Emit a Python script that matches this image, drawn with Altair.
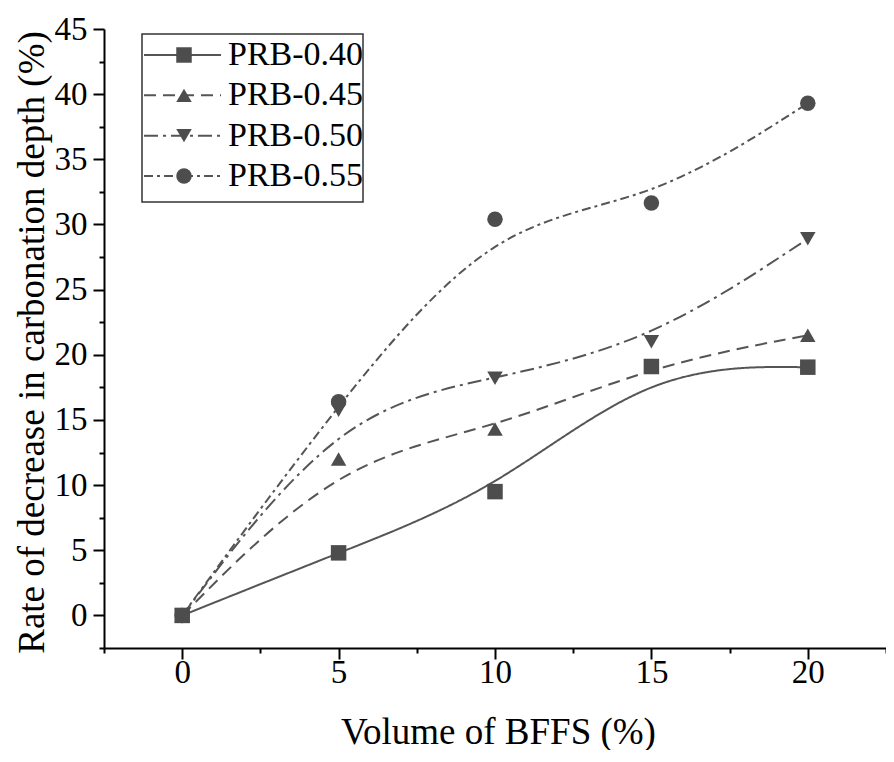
import altair as alt
import pandas as pd

# ---- data ----
volume = [0, 5, 10, 15, 20]
series_names = ["PRB-0.40", "PRB-0.45", "PRB-0.50", "PRB-0.55"]
prb_040 = [0, 4.8, 9.5, 19.1, 19.05]
prb_045 = [0, 12.0, 14.3, 19.2, 21.5]
prb_050 = [0, 15.75, 18.2, 21.0, 28.9]
prb_055 = [0, 16.4, 30.4, 31.65, 39.3]

x_ticks = [-2.5, 0, 2.5, 5, 7.5, 10, 12.5, 15, 17.5, 20, 22.5]
y_ticks = [-2.5, 0, 2.5, 5, 7.5, 10, 12.5, 15, 17.5, 20, 22.5, 25, 27.5, 30,
           32.5, 35, 37.5, 40, 42.5, 45]

rows = []
for name, vals in zip(series_names, [prb_040, prb_045, prb_050, prb_055]):
    for x, v in zip(volume, vals):
        rows.append({"volume": x, "rate": v, "series": name})
df = pd.DataFrame(rows)
leg_df = pd.DataFrame({"series": series_names})
box_df = pd.DataFrame({"k": [0]})

FONT = "Liberation Serif"
GRAY = "#4d4d4d"
shapes = ["square", "triangle-up", "triangle-down", "circle"]
dashes = [[1, 0], [12, 7], [14, 5, 3, 5], [9, 4, 3, 4]]

minor_tick = {"condition": {"test": "datum.value % 5 !== 0", "value": 5}, "value": 11}

x_enc = alt.X("volume:Q",
              scale=alt.Scale(domain=[-2.5, 22.5], nice=False, zero=False),
              axis=alt.Axis(values=x_ticks, title="Volume of BFFS (%)",
                            labelExpr="datum.value % 5 === 0 ? datum.label : ''",
                            tickSize=minor_tick, labelPadding=-3,
                            titleFontSize=37,
                            titleX=394, titleY=84, titleBaseline="middle"))
y_enc = alt.Y("rate:Q",
              scale=alt.Scale(domain=[-2.5, 45], nice=False, zero=False),
              axis=alt.Axis(values=y_ticks,
                            title="Rate of decrease in carbonation depth (%)",
                            labelExpr="datum.value % 5 === 0 ? datum.label : ''",
                            tickSize=minor_tick, labelPadding=6,
                            titleFontSize=37,
                            titleX=-72, titleY=313, titleBaseline="middle"))

dash_scale = alt.Scale(domain=series_names, range=dashes)
shape_scale = alt.Scale(domain=series_names, range=shapes)

lines = alt.Chart(df).mark_line(interpolate="basis", strokeWidth=2, color="#555555").encode(
    x=x_enc, y=y_enc,
    strokeDash=alt.StrokeDash("series:N", scale=dash_scale, legend=None),
    detail="series:N",
)
points = alt.Chart(df).mark_point(filled=True, size=240, opacity=1, color=GRAY).encode(
    x=x_enc, y=y_enc,
    shape=alt.Shape("series:N", scale=shape_scale, legend=None),
)
main = alt.layer(lines, points)

leg_y = alt.Y("series:N", scale=alt.Scale(type="point", domain=series_names,
                                           range=[26, 147], padding=0), axis=None)
leg_box = alt.Chart(box_df).mark_rect(fill=None, stroke="#333333", strokeWidth=1.5).encode(
    x=alt.value(38), x2=alt.value(259), y=alt.value(5), y2=alt.value(173))
leg_lines = alt.Chart(leg_df).mark_rule(strokeWidth=2, color="#555555").encode(
    x=alt.value(40), x2=alt.value(117), y=leg_y,
    strokeDash=alt.StrokeDash("series:N", scale=dash_scale, legend=None))
leg_pts = alt.Chart(leg_df).mark_point(filled=True, size=240, opacity=1, color=GRAY).encode(
    x=alt.value(80), y=leg_y,
    shape=alt.Shape("series:N", scale=shape_scale, legend=None))
leg_text = alt.Chart(leg_df).mark_text(align="left", baseline="middle", font=FONT,
                                       fontSize=34, color="black").encode(
    x=alt.value(124), y=leg_y, text="series:N")
legend = alt.layer(leg_box, leg_lines, leg_pts, leg_text)

chart = alt.layer(main, legend).resolve_scale(
    y="independent", x="independent", strokeDash="shared", shape="shared"
).properties(
    width=782, height=619,
    autosize=alt.AutoSizeParams(type="none"),
    padding={"left": 96, "top": 21, "right": 0, "bottom": 102},
).configure_view(stroke=None).configure_axis(
    domainColor="black", domainWidth=2, tickColor="black", tickWidth=2,
    grid=False, labelFont=FONT, labelFontSize=33, labelColor="black",
    titleFont=FONT, titleFontWeight="normal", titleColor="black",
)

chart.save("out.html", embed_options={"renderer": "svg", "actions": False})
